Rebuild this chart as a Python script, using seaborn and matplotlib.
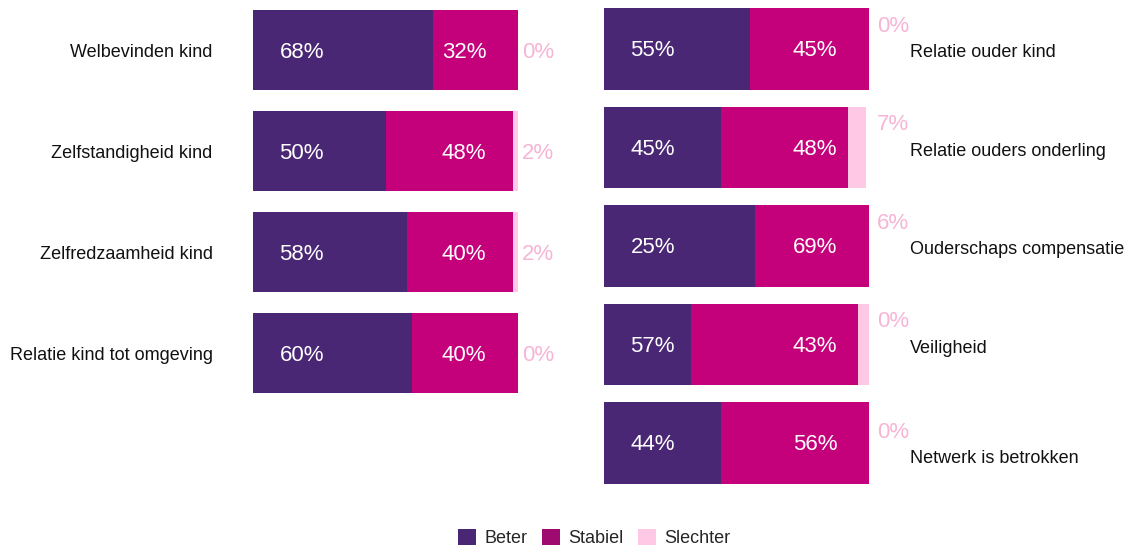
import numpy as np
import matplotlib
matplotlib.use("Agg")
import matplotlib.pyplot as plt
from matplotlib.patches import Patch
import seaborn as sns

# data: left panel
left_cats = ["Welbevinden kind", "Zelfstandigheid kind", "Zelfredzaamheid kind",
             "Relatie kind tot omgeving"]
left_beter = np.array([68, 50, 58, 60])
left_stabiel = np.array([32, 48, 40, 40])
left_slechter = np.array([0, 2, 2, 0])
left_lbl_beter = ["68%", "50%", "58%", "60%"]
left_lbl_stabiel = ["32%", "48%", "40%", "40%"]
left_lbl_slechter = ["0%", "2%", "2%", "0%"]

# data: right panel (segment lengths as drawn in the reference)
right_cats = ["Relatie ouder kind", "Relatie ouders onderling",
              "Ouderschaps compensatie", "Veiligheid", "Netwerk is betrokken"]
right_beter = np.array([55, 44, 57, 33, 44])
right_stabiel = np.array([45, 48, 43, 63, 56])
right_slechter = np.array([0, 7, 0, 4, 0])
right_lbl_beter = ["55%", "45%", "25%", "57%", "44%"]
right_lbl_stabiel = ["45%", "48%", "69%", "43%", "56%"]
right_lbl_slechter = ["0%", "7%", "6%", "0%", "0%"]

legend_labels = ["Beter", "Stabiel", "Slechter"]

C_BETER = "#4a2774"
C_STABIEL = "#c4007a"
C_SLECHTER = "#ffc8e4"
C_STABIEL_LEG = "#9e0a70"
C_SLECHTER_TXT = "#f7b5d6"

sns.set_theme(style="white")
plt.rcParams["font.family"] = ["Liberation Sans", "DejaVu Sans"]

W, H = 1132, 547
fig = plt.figure(figsize=(W / 100, H / 100), dpi=100)


def px_axes(x0, x1, y_top, y_bot):
    return fig.add_axes([x0 / W, 1 - y_bot / H, (x1 - x0) / W, (y_bot - y_top) / H])


def stacked(ax, cats, beter, stabiel, slechter, width):
    for vals, col in ((beter + stabiel + slechter, C_SLECHTER),
                      (beter + stabiel, C_STABIEL),
                      (beter, C_BETER)):
        sns.barplot(x=vals, y=cats, color=col, orient="h", width=width,
                    saturation=1, linewidth=0, edgecolor="none", ax=ax)
    ax.set_xlim(0, 100)
    ax.set_ylim(len(cats) - 0.5, -0.5)
    ax.set_xlabel("")
    ax.set_ylabel("")
    ax.set_xticks([])
    sns.despine(ax=ax, left=True, bottom=True)


# left panel
axl = px_axes(253, 518, -0.5, 403.5)
stacked(axl, left_cats, left_beter, left_stabiel, left_slechter, 0.8)
axl.set_yticks(range(len(left_cats)))
axl.set_yticklabels(left_cats, fontsize=13, color="#111111")
axl.tick_params(axis="y", length=0, pad=29)
for i in range(len(left_cats)):
    axl.text(10, i + 0.02, left_lbl_beter[i], color="white", fontsize=16, ha="left", va="center")
    axl.text(88, i + 0.02, left_lbl_stabiel[i], color="white", fontsize=16, ha="right", va="center")
    axl.text(101.5, i + 0.02, left_lbl_slechter[i], color=C_SLECHTER_TXT, fontsize=16,
             ha="left", va="center")

# right panel
axr = px_axes(604, 869, -0.25, 492.25)
stacked(axr, right_cats, right_beter, right_stabiel, right_slechter, 0.83)
axr.set_yticks([])
row_dy = [0, 0, 0, 0, 0.12]
for i in range(len(right_cats)):
    axr.text(10, i + 0.02, right_lbl_beter[i], color="white", fontsize=16, ha="left", va="center")
    axr.text(88, i + 0.02, right_lbl_stabiel[i], color="white", fontsize=16, ha="right", va="center")
    axr.text(103, i - 0.23 + row_dy[i], right_lbl_slechter[i], color=C_SLECHTER_TXT,
             fontsize=16, ha="left", va="center")
    axr.text(115.5, i + 0.04 + row_dy[i], right_cats[i], color="#111111", fontsize=13,
             ha="left", va="center")

handles = [Patch(facecolor=c, edgecolor="none") for c in (C_BETER, C_STABIEL_LEG, C_SLECHTER)]
fig.legend(handles, legend_labels, loc="lower center", ncol=3, frameon=False,
           bbox_to_anchor=(594 / W, -0.03), fontsize=13, handlelength=1, handleheight=1,
           handletextpad=0.45, columnspacing=0.8)

fig.savefig("out.png", dpi=100)
